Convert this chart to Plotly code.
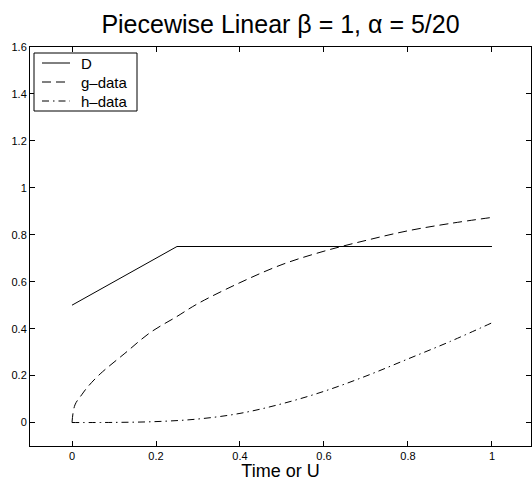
import plotly.graph_objects as go

# Demand profile D: piecewise linear ramp then plateau
d_time = [0.0, 0.25, 1.0]
d_vals = [0.5, 0.75, 0.75]

# g-data samples
g_time = [0.0, 0.007, 0.023, 0.037, 0.067, 0.126, 0.186, 0.25, 0.3, 0.4,
          0.5, 0.6, 0.7, 0.8, 0.9, 1.0]
g_vals = [0.0, 0.075, 0.118, 0.151, 0.207, 0.295, 0.383, 0.452, 0.507, 0.596,
          0.673, 0.73, 0.776, 0.817, 0.848, 0.874]

# h-data samples
h_time = [0.0, 0.1, 0.2, 0.3, 0.4, 0.5, 0.6, 0.7, 0.8, 0.9, 1.0]
h_vals = [0.0, 0.0005, 0.004, 0.015, 0.039, 0.08, 0.133, 0.198, 0.271, 0.345, 0.425]

series_names = ["D", "g–data", "h–data"]
series_dash = ["solid", "9px,5px", "7px,4px,1.5px,4px"]

x_ticks = [0, 0.2, 0.4, 0.6, 0.8, 1]
x_tick_labels = ["0", "0.2", "0.4", "0.6", "0.8", "1"]
y_ticks = [0, 0.2, 0.4, 0.6, 0.8, 1, 1.2, 1.4, 1.6]
y_tick_labels = ["0", "0.2", "0.4", "0.6", "0.8", "1", "1.2", "1.4", "1.6"]

FONT = "Liberation Sans, Arial, Helvetica, sans-serif"
W, H = 532, 481
M_L, M_R, M_T, M_B = 30, 1, 47, 35
PLOT_W = W - M_L - M_R
PLOT_H = H - M_T - M_B


def px_x(p):
    """Pixel column -> plot-area fraction."""
    return (p - M_L) / PLOT_W


def px_y(p):
    """Pixel row -> plot-area fraction."""
    return (H - M_B - p) / PLOT_H


fig = go.Figure()
for name, xs, ys, dash in zip(series_names, [d_time, g_time, h_time],
                              [d_vals, g_vals, h_vals], series_dash):
    fig.add_trace(go.Scatter(
        x=xs, y=ys, mode="lines", name=name, showlegend=False,
        line=dict(color="black", width=1, dash=dash,
                  shape="linear" if name == "D" else "spline")))

# Boxed legend in the upper-left corner
shapes = [dict(type="rect", xref="paper", yref="paper",
               x0=px_x(34), x1=px_x(137), y0=px_y(111), y1=px_y(53),
               line=dict(color="black", width=1), fillcolor="white",
               layer="above")]
annotations = []
for i, (name, dash) in enumerate(zip(series_names, series_dash)):
    row = 63 + i * 19
    shapes.append(dict(type="line", xref="paper", yref="paper",
                       x0=px_x(42), x1=px_x(70), y0=px_y(row), y1=px_y(row),
                       line=dict(color="black", width=1, dash=dash),
                       layer="above"))
    annotations.append(dict(text=name, xref="paper", yref="paper",
                            x=px_x(79), y=px_y(row), xanchor="left",
                            yanchor="middle", showarrow=False,
                            font=dict(family=FONT, size=15, color="black")))

axis_common = dict(
    showline=True, linecolor="black", linewidth=1, mirror="ticks",
    ticks="inside", ticklen=5, tickcolor="black", tickwidth=1,
    showgrid=False, zeroline=False,
    tickfont=dict(family=FONT, size=11, color="black"),
)

fig.update_layout(
    width=W, height=H,
    margin=dict(l=M_L, r=M_R, t=M_T, b=M_B),
    paper_bgcolor="white", plot_bgcolor="white",
    font=dict(family=FONT, color="black"),
    title=dict(text="Piecewise Linear β = 1, α = 5/20",
               font=dict(family=FONT, size=25, color="black"),
               x=0.5, xref="paper", xanchor="center",
               y=1 - 24 / H, yanchor="middle"),
    xaxis=dict(range=[-0.1, 1.0929], tickvals=x_ticks, ticktext=x_tick_labels,
               title=dict(text="Time or U", font=dict(family=FONT, size=18),
                          standoff=0),
               **axis_common),
    yaxis=dict(range=[-0.1, 1.6], tickvals=y_ticks, ticktext=y_tick_labels,
               **axis_common),
    shapes=shapes,
    annotations=annotations,
    showlegend=False,
)

fig.write_html("out.html")
